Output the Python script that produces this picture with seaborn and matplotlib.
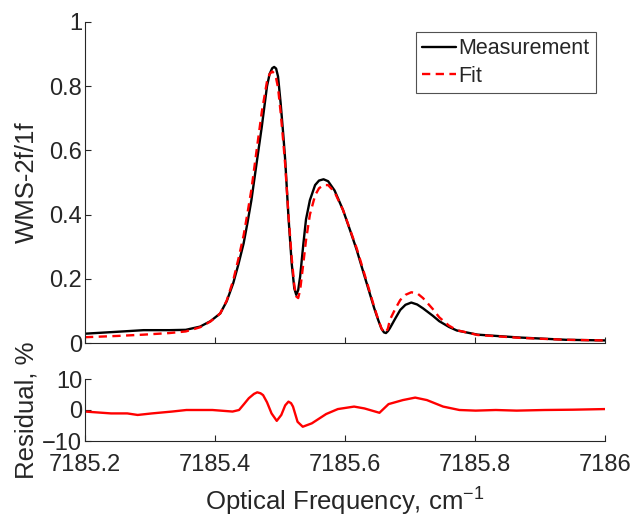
import numpy as np
import pandas as pd
import seaborn as sns
import matplotlib
matplotlib.use("Agg")
import matplotlib.pyplot as plt

# ---------------- data ----------------
freq = [7185.200, 7185.250, 7185.290, 7185.330, 7185.355, 7185.377, 7185.393, 7185.408,
        7185.418, 7185.428, 7185.436, 7185.444, 7185.450, 7185.456, 7185.464, 7185.472,
        7185.480, 7185.484, 7185.488, 7185.491, 7185.494, 7185.497, 7185.501, 7185.505,
        7185.508, 7185.513, 7185.518, 7185.522, 7185.525, 7185.528, 7185.531, 7185.536,
        7185.540, 7185.546, 7185.554, 7185.560, 7185.567, 7185.574, 7185.584, 7185.597,
        7185.608, 7185.618, 7185.628, 7185.638, 7185.645, 7185.651, 7185.656, 7185.660,
        7185.663, 7185.666, 7185.669, 7185.677, 7185.685, 7185.693, 7185.702, 7185.711,
        7185.720, 7185.735, 7185.745, 7185.760, 7185.772, 7185.804, 7185.869, 7185.940,
        7186.000]
meas_val = [0.029, 0.035, 0.040, 0.040, 0.041, 0.051, 0.068, 0.092,
            0.130, 0.186, 0.245, 0.310, 0.375, 0.445, 0.560, 0.674,
            0.800, 0.838, 0.856, 0.860, 0.855, 0.830, 0.747, 0.650,
            0.570, 0.393, 0.248, 0.170, 0.150, 0.165, 0.207, 0.310,
            0.385, 0.445, 0.492, 0.506, 0.510, 0.504, 0.475, 0.414,
            0.350, 0.290, 0.222, 0.155, 0.108, 0.072, 0.045, 0.033,
            0.031, 0.037, 0.046, 0.075, 0.103, 0.119, 0.126, 0.120,
            0.108, 0.085, 0.068, 0.050, 0.039, 0.026, 0.017, 0.010,
            0.008]
fit_val = [0.018, 0.022, 0.026, 0.031, 0.036, 0.049, 0.067, 0.092,
           0.132, 0.195, 0.262, 0.335, 0.405, 0.478, 0.600, 0.720,
           0.815, 0.838, 0.846, 0.840, 0.825, 0.795, 0.718, 0.628,
           0.555, 0.400, 0.265, 0.180, 0.145, 0.140, 0.165, 0.250,
           0.320, 0.400, 0.460, 0.482, 0.492, 0.492, 0.470, 0.414,
           0.352, 0.295, 0.228, 0.160, 0.112, 0.074, 0.046, 0.033,
           0.034, 0.045, 0.072, 0.105, 0.134, 0.150, 0.158, 0.155,
           0.140, 0.106, 0.080, 0.054, 0.040, 0.025, 0.016, 0.010,
           0.008]

res_freq = [7185.200, 7185.240, 7185.265, 7185.281, 7185.303, 7185.334, 7185.356, 7185.396,
            7185.427, 7185.437, 7185.445, 7185.452, 7185.460, 7185.465, 7185.470, 7185.474,
            7185.480, 7185.487, 7185.495, 7185.502, 7185.508, 7185.513, 7185.517, 7185.520,
            7185.527, 7185.535, 7185.549, 7185.571, 7185.589, 7185.614, 7185.630, 7185.653,
            7185.667, 7185.689, 7185.708, 7185.726, 7185.751, 7185.776, 7185.801, 7185.832,
            7185.864, 7185.907, 7185.951, 7186.000]
res_val = [-0.5, -1.1, -1.1, -1.6, -1.1, -0.5, 0.0, 0.0,
           -0.5, 0.0, 2.0, 3.8, 5.2, 5.7, 5.4, 4.8,
           2.5, -1.1, -3.5, -1.6, 1.5, 2.7, 2.2, 1.1,
           -3.8, -5.4, -4.3, -1.3, 0.3, 1.1, 0.5, -0.9,
           1.9, 3.2, 4.0, 3.2, 1.1, 0.0, -0.2, 0.0,
           -0.2, 0.0, 0.1, 0.3]

top_yticks = [0, 0.2, 0.4, 0.6, 0.8, 1]
top_yticklabels = ["0", "0.2", "0.4", "0.6", "0.8", "1"]
res_yticks = [-10, 0, 10]
xticks = [7185.2, 7185.4, 7185.6, 7185.8, 7186]
xticklabels = ["7185.2", "7185.4", "7185.6", "7185.8", "7186"]

# ---------------- style ----------------
sns.set_style("ticks")
plt.rcParams["font.family"] = ["Liberation Sans", "DejaVu Sans"]
axis_color = "#262626"
plt.rcParams.update({
    "axes.edgecolor": axis_color,
    "xtick.color": axis_color,
    "ytick.color": axis_color,
    "axes.labelcolor": axis_color,
    "xtick.direction": "in",
    "ytick.direction": "in",
    "axes.linewidth": 0.8,
    "mathtext.fontset": "custom",
    "mathtext.rm": "Liberation Sans",
    "mathtext.it": "Liberation Sans:italic",
    "mathtext.bf": "Liberation Sans:bold",
})

fig = plt.figure(figsize=(6.32, 5.18), dpi=100)
W, H = 632, 518
L, R = 85, 605
ax1 = fig.add_axes([L / W, 1 - 343 / H, (R - L) / W, (343 - 22) / H])
ax2 = fig.add_axes([L / W, 1 - 441 / H, (R - L) / W, (441 - 379) / H])

df_m = pd.DataFrame({"freq": freq, "val": meas_val})
df_f = pd.DataFrame({"freq": freq, "val": fit_val})
df_r = pd.DataFrame({"freq": res_freq, "val": res_val})

sns.lineplot(data=df_m, x="freq", y="val", ax=ax1, color="black", lw=1.7,
             label="Measurement", sort=False)
sns.lineplot(data=df_f, x="freq", y="val", ax=ax1, color="#ff0000", lw=1.7,
             label="Fit", sort=False, linestyle=(0, (3.5, 2.3)))
sns.lineplot(data=df_r, x="freq", y="val", ax=ax2, color="#ff0000", lw=1.7, sort=False)

for ax in (ax1, ax2):
    sns.despine(ax=ax)
    ax.set_xlim(7185.2, 7186)
    ax.set_xticks(xticks)
    ax.tick_params(length=4, width=0.8, labelsize=17)
    ax.tick_params(axis="y", pad=2)
    ax.tick_params(axis="x", pad=9.5)

ax1.set_ylim(0, 1)
ax1.set_yticks(top_yticks)
ax1.set_yticklabels(top_yticklabels)
ax1.set_xticklabels([])
ax1.set_xlabel("")
ax1.set_ylabel("WMS-2f/1f", fontsize=18.5)
ax1.yaxis.set_label_coords(-0.089, 0.5)

ax2.set_ylim(-10, 10)
ax2.set_yticks(res_yticks)
ax2.set_xticklabels(xticklabels)
ax2.set_ylabel("Residual, %", fontsize=18.5)
ax2.yaxis.set_label_coords(-0.089, 0.5)
ax2.set_xlabel(r"Optical Frequency, cm$^{\mathrm{-1}}$", fontsize=18.5)
ax2.xaxis.set_label_coords(0.5, -0.72)

leg = ax1.legend(loc="upper right", bbox_to_anchor=(0.983, 0.969), fontsize=15.5,
                 frameon=True, fancybox=False, handlelength=1.6, handletextpad=0.1,
                 borderpad=0.3, labelspacing=0.3, borderaxespad=0)
leg.get_frame().set_edgecolor(axis_color)
leg.get_frame().set_linewidth(0.8)

fig.savefig("out.png", dpi=100)
